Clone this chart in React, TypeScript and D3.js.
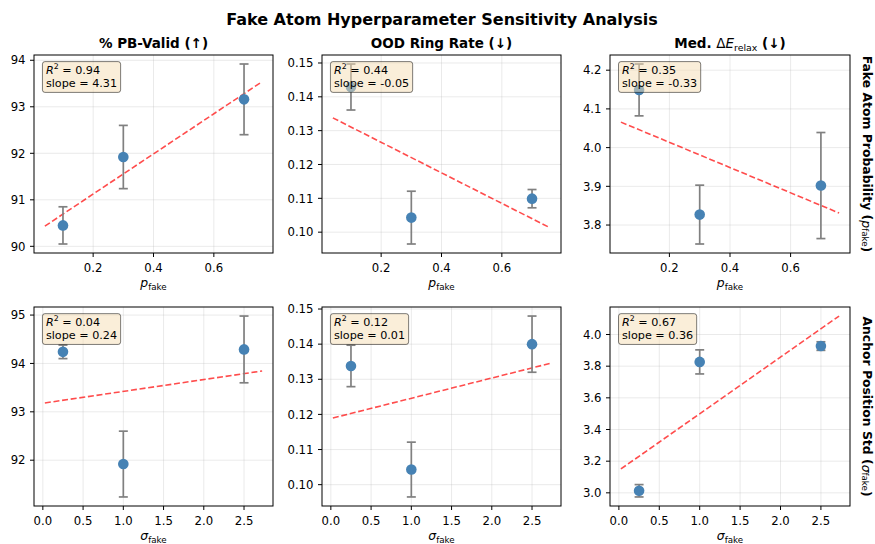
import * as React from "react";
import * as d3 from "d3";

// x values of the two sweeps
const pFake = [0.1, 0.3, 0.7];
const sigmaFake = [0.25, 1.0, 2.5];

// sweep over fake atom probability
const pbValidByP = [90.45, 91.92, 93.16];
const pbValidByPErr = [0.4, 0.68, 0.76];
const ringRateByP = [0.1429, 0.1043, 0.1099];
const ringRateByPErr = [0.0068, 0.0078, 0.0027];
const eRelaxByP = [4.149, 3.827, 3.902];
const eRelaxByPErr = [0.067, 0.076, 0.137];

// sweep over anchor position std
const pbValidBySigma = [94.24, 91.92, 94.29];
const pbValidBySigmaErr = [0.14, 0.68, 0.69];
const ringRateBySigma = [0.1338, 0.1043, 0.14];
const ringRateBySigmaErr = [0.0059, 0.0078, 0.008];
const eRelaxBySigma = [3.013, 3.827, 3.927];
const eRelaxBySigmaErr = [0.039, 0.076, 0.027];

const FONT = "DejaVu Sans";
const colsX = [
  [34, 273],
  [322, 561],
  [610, 850],
];
const rowsY = [
  [55, 253],
  [307, 506],
];

let canvas: HTMLCanvasElement | null = null;
function measure(text: string, size: number, style = "normal") {
  if (!canvas) canvas = document.createElement("canvas");
  const ctx = canvas.getContext("2d")!;
  ctx.font = `${style} ${size}px "${FONT}"`;
  return ctx.measureText(text).width;
}

function linfit(xs: number[], ys: number[]) {
  const mx = d3.mean(xs)!;
  const my = d3.mean(ys)!;
  let sxy = 0,
    sxx = 0,
    sst = 0;
  xs.forEach((x, i) => {
    sxy += (x - mx) * (ys[i] - my);
    sxx += (x - mx) ** 2;
    sst += (ys[i] - my) ** 2;
  });
  const b = sxy / sxx;
  const a = my - b * mx;
  const r2 = (b * b * sxx) / sst;
  return { a, b, r2 };
}

function Panel(props: any) {
  const { xs, ys, errs, sym, col, row } = props;
  const [left, right] = colsX[col];
  const [top, bottom] = rowsY[row];
  const width = right - left;
  const height = bottom - top;

  const fit = linfit(xs, ys);
  const xmin = d3.min(xs as number[])!;
  const xmax = d3.max(xs as number[])!;
  const span = xmax - xmin;
  const lx = [xmin - 0.1 * span, xmax + 0.1 * span];
  const ly = lx.map((v) => fit.a + fit.b * v);

  const lo = d3.min([...ys.map((v: number, i: number) => v - errs[i]), ...ly])!;
  const hi = d3.max([...ys.map((v: number, i: number) => v + errs[i]), ...ly])!;
  const padX = 0.05 * (lx[1] - lx[0]);
  const padY = 0.05 * (hi - lo);

  const x = d3
    .scaleLinear()
    .domain([lx[0] - padX, lx[1] + padX])
    .range([0, width]);
  const y = d3
    .scaleLinear()
    .domain([lo - padY, hi + padY])
    .range([height, 0]);

  const xTicks = x.ticks(5);
  const yTicks = y.ticks(5);
  const xFmt = x.tickFormat(5);
  const yFmt = y.tickFormat(5);

  const line = d3
    .line<number>()
    .x((d) => x(d))
    .y((d) => y(fit.a + fit.b * d));

  const fs = 11.2;
  const tickFs = 11.7;
  const r2Text = `R2 = ${fit.r2.toFixed(2)}`;
  const slopeText = `slope = ${fit.b.toFixed(2)}`;
  const boxW = Math.max(measure(r2Text, fs), measure(slopeText, fs)) + 7;
  const tx = width * 0.05;
  const ty = height * 0.05;

  return (
    <g transform={`translate(${left}, ${top})`} fontFamily={FONT}>
      {/* grid */}
      {xTicks.map((d, i) => (
        <line key={"gx" + i} x1={x(d)} x2={x(d)} y1={0} y2={height} stroke="#b0b0b0" strokeOpacity={0.3} strokeWidth={0.9} />
      ))}
      {yTicks.map((d, i) => (
        <line key={"gy" + i} x1={0} x2={width} y1={y(d)} y2={y(d)} stroke="#b0b0b0" strokeOpacity={0.3} strokeWidth={0.9} />
      ))}

      {/* trend */}
      <path d={line(lx)!} stroke="red" strokeOpacity={0.7} strokeWidth={1.6} strokeDasharray="6,2.7" fill="none" />

      {/* error bars */}
      {xs.map((d: number, i: number) => (
        <g key={"e" + i} stroke="#808080" strokeWidth={1.7}>
          <line x1={x(d)} x2={x(d)} y1={y(ys[i] - errs[i])} y2={y(ys[i] + errs[i])} />
          <line x1={x(d) - 4.5} x2={x(d) + 4.5} y1={y(ys[i] - errs[i])} y2={y(ys[i] - errs[i])} />
          <line x1={x(d) - 4.5} x2={x(d) + 4.5} y1={y(ys[i] + errs[i])} y2={y(ys[i] + errs[i])} />
        </g>
      ))}
      {xs.map((d: number, i: number) => (
        <circle key={"c" + i} cx={x(d)} cy={y(ys[i])} r={5.3} fill="#4682b4" />
      ))}

      {/* stats box */}
      <rect x={tx - 3.5} y={ty - 3.3} width={boxW} height={2 * 13.3 + 4.2} rx={2.5} fill="#f5deb3" fillOpacity={0.5} stroke="#000" strokeOpacity={0.5} strokeWidth={1} />
      <text x={tx} y={ty + 9} fontSize={fs} fill="#000">
        <tspan fontStyle="italic">R</tspan>
        <tspan fontSize={fs * 0.7} dy={-4.5}>2</tspan>
        <tspan dy={4.5}>{` = ${fit.r2.toFixed(2)}`}</tspan>
      </text>
      <text x={tx} y={ty + 9 + 13.3} fontSize={fs} fill="#000">
        {slopeText}
      </text>

      {/* frame */}
      <rect x={0} y={0} width={width} height={height} fill="none" stroke="#000" strokeWidth={1} />

      {/* x axis */}
      {xTicks.map((d, i) => (
        <g key={"xt" + i} transform={`translate(${x(d)}, ${height})`}>
          <line y2={4} stroke="#000" strokeWidth={1} />
          <text y={19.2} textAnchor="middle" fontSize={tickFs} fill="#000">
            {xFmt(d)}
          </text>
        </g>
      ))}
      {/* y axis */}
      {yTicks.map((d, i) => (
        <g key={"yt" + i} transform={`translate(0, ${y(d)})`}>
          <line x2={-4} stroke="#000" strokeWidth={1} />
          <text x={-8.5} dy="0.36em" textAnchor="end" fontSize={tickFs} fill="#000">
            {yFmt(d)}
          </text>
        </g>
      ))}

      <text x={width / 2} y={height + 34} textAnchor="middle" fontSize={12.4} fill="#000">
        <tspan fontStyle="italic">{sym}</tspan>
        <tspan fontSize={8.7} dy={2.5}>fake</tspan>
      </text>

      {props.title ? (
        <text x={width / 2} y={-6.7} textAnchor="middle" fontSize={13.5} fontWeight="bold" fill="#000">
          {props.title}
        </text>
      ) : null}
    </g>
  );
}

export default function App() {
  return (
    <svg width={875} height={544} style={{ position: "absolute", left: 0, top: 0 }} fontFamily={FONT}>
      <rect width={875} height={544} fill="#fff" />
      <text x={442} y={25} textAnchor="middle" fontSize={16} fontWeight="bold">
        Fake Atom Hyperparameter Sensitivity Analysis
      </text>

      <Panel col={0} row={0} xs={pFake} ys={pbValidByP} errs={pbValidByPErr} sym="p" title={<>% PB-Valid (↑)</>} />
      <Panel col={1} row={0} xs={pFake} ys={ringRateByP} errs={ringRateByPErr} sym="p" title={<>OOD Ring Rate (↓)</>} />
      <Panel
        col={2}
        row={0}
        xs={pFake}
        ys={eRelaxByP}
        errs={eRelaxByPErr}
        sym="p"
        title={
          <>
            <tspan>Med. </tspan>
            <tspan fontWeight="normal">Δ</tspan>
            <tspan fontWeight="normal" fontStyle="italic">E</tspan>
            <tspan fontWeight="normal" fontSize={9.4} dy={2.5}>relax</tspan>
            <tspan dy={-2.5}> (↓)</tspan>
          </>
        }
      />
      <Panel col={0} row={1} xs={sigmaFake} ys={pbValidBySigma} errs={pbValidBySigmaErr} sym="σ" />
      <Panel col={1} row={1} xs={sigmaFake} ys={ringRateBySigma} errs={ringRateBySigmaErr} sym="σ" />
      <Panel col={2} row={1} xs={sigmaFake} ys={eRelaxBySigma} errs={eRelaxBySigmaErr} sym="σ" />

      {[
        { label: "Fake Atom Probability (", sym: "p", row: 0 },
        { label: "Anchor Position Std (", sym: "σ", row: 1 },
      ].map((r) => (
        <text
          key={r.label}
          transform={`translate(867, ${(rowsY[r.row][0] + rowsY[r.row][1]) / 2}) rotate(90)`}
          textAnchor="middle"
          dominantBaseline="central"
          fontSize={12.4}
          fontWeight="bold"
        >
          {r.label}
          <tspan fontWeight="normal" fontStyle="italic">{r.sym}</tspan>
          <tspan fontWeight="normal" fontSize={8.7} dy={2.5}>fake</tspan>
          <tspan dy={-2.5}>)</tspan>
        </text>
      ))}
    </svg>
  );
}
